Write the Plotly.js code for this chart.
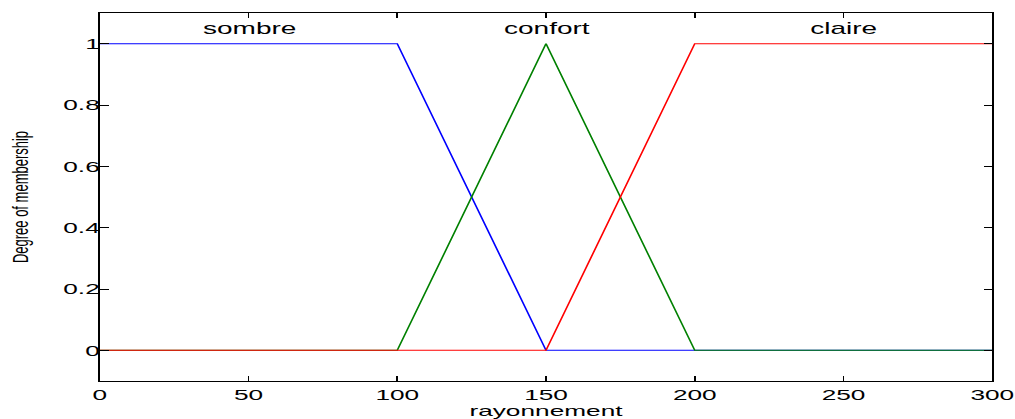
<!DOCTYPE html>
<html>
<head>
<meta charset="utf-8">
<script src="https://cdn.plot.ly/plotly-3.0.1.min.js"></script>
<style>
html,body{margin:0;padding:0;overflow:hidden;background:#fff;width:1015px;height:419px;}
#wrap{width:580px;height:419px;transform:scaleX(1.75);transform-origin:0 0;}
</style>
</head>
<body>
<div id="wrap"><div id="chart"></div></div>
<script>
// Membership functions (breakpoints)
const sombreX = [0, 100, 150, 300];
const sombreY = [1, 1, 0, 0];
const confortX = [0, 100, 150, 200, 300];
const confortY = [0, 0, 1, 0, 0];
const claireX = [0, 150, 200, 300];
const claireY = [0, 0, 1, 1];

const mfNames = ['sombre', 'confort', 'claire'];
const mfLabelX = [50, 150, 250];
const mfLabelY = [1.05, 1.05, 1.05];

const xTicks = [0, 50, 100, 150, 200, 250, 300];
const yTicks = [0, 0.2, 0.4, 0.6, 0.8, 1];
const yTickText = ['0', '0.2', '0.4', '0.6', '0.8', '1'];

const fontFam = 'Liberation Sans, Arial, Helvetica, sans-serif';

const traces = [
  {x: sombreX, y: sombreY, mode: 'lines', line: {color: '#0000ff', width: 1}, name: 'sombre'},
  {x: confortX, y: confortY, mode: 'lines', line: {color: '#008000', width: 1}, name: 'confort'},
  {x: claireX, y: claireY, mode: 'lines', line: {color: '#ff0000', width: 1}, name: 'claire'}
];

const annotations = mfNames.map((n, i) => ({
  x: mfLabelX[i], y: mfLabelY[i], xref: 'x', yref: 'y', text: n, showarrow: false,
  font: {family: fontFam, size: 16, color: '#000'}
}));

const layout = {
  width: 580, height: 419,
  margin: {l: 57, r: 13, t: 13, b: 38},
  paper_bgcolor: '#fff', plot_bgcolor: '#fff',
  showlegend: false,
  font: {family: fontFam, color: '#000'},
  xaxis: {
    range: [0, 300], tickvals: xTicks, ticktext: xTicks.map(String),
    ticks: 'inside', ticklen: 5, tickcolor: '#000', tickwidth: 1,
    showline: true, linecolor: '#000', linewidth: 1, mirror: 'ticks',
    showgrid: false, zeroline: false,
    tickfont: {family: fontFam, size: 15, color: '#000'},
    title: {text: 'rayonnement', font: {family: fontFam, size: 15, color: '#000'}, standoff: 0}
  },
  yaxis: {
    range: [-0.1, 1.1], tickvals: yTicks, ticktext: yTickText,
    ticks: 'inside', ticklen: 5, tickcolor: '#000', tickwidth: 1,
    showline: true, linecolor: '#000', linewidth: 1, mirror: 'ticks',
    showgrid: false, zeroline: false, ticklabelstandoff: -4,
    tickfont: {family: fontFam, size: 15, color: '#000'},
    title: {text: 'Degree of membership', font: {family: fontFam, size: 13, color: '#000'}, standoff: 16}
  },
  annotations: annotations
};

Plotly.newPlot('chart', traces, layout, {displayModeBar: false, staticPlot: true});
</script>
</body>
</html>
